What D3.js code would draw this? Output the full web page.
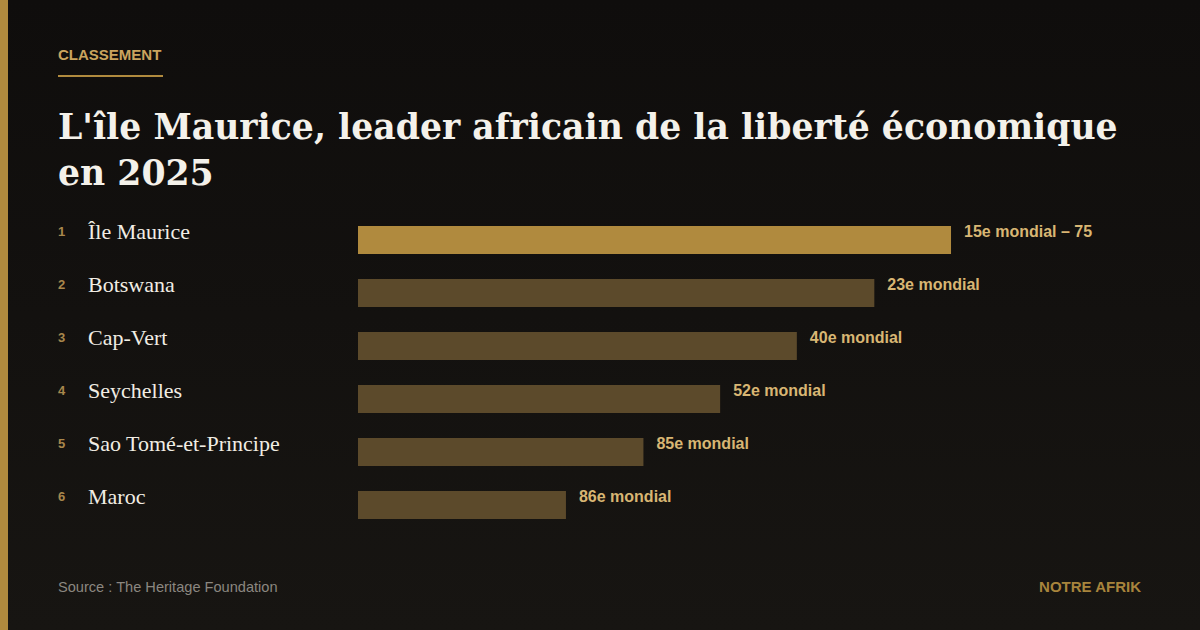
<!DOCTYPE html>
<html><head><meta charset="utf-8">
<script src="https://cdn.jsdelivr.net/npm/d3@7"></script>
<style>html,body{margin:0;padding:0;background:#100e0c;}svg{display:block;}</style>
</head><body>
<script>
const kicker = "CLASSEMENT";
const titleLines = ["L'île Maurice, leader africain de la liberté économique", "en 2025"];
const ranks = [1, 2, 3, 4, 5, 6];
const countries = ["Île Maurice", "Botswana", "Cap-Vert", "Seychelles", "Sao Tomé-et-Principe", "Maroc"];
const barValues = [75, 65.3, 55.5, 45.8, 36.1, 26.3];
const valueLabels = ["15e mondial – 75", "23e mondial", "40e mondial", "52e mondial", "85e mondial", "86e mondial"];
const source = "Source : The Heritage Foundation";
const brand = "NOTRE AFRIK";

const W = 1200, H = 630;
const svg = d3.select("body").append("svg").attr("width", W).attr("height", H);
const defs = svg.append("defs");
const g = defs.append("linearGradient").attr("id","bg").attr("x1",0).attr("y1",0).attr("x2",0).attr("y2",1);
g.append("stop").attr("offset","0%").attr("stop-color","#0f0d0c");
g.append("stop").attr("offset","100%").attr("stop-color","#171512");
svg.append("rect").attr("width",W).attr("height",H).attr("fill","url(#bg)");
svg.append("rect").attr("x",0).attr("y",0).attr("width",8).attr("height",H).attr("fill","#b08a3e");

svg.append("text").attr("x",58).attr("y",60).text(kicker)
  .attr("font-family","'Liberation Sans', Arial, sans-serif").attr("font-weight","bold")
  .attr("font-size",15).attr("fill","#caa45e");
svg.append("rect").attr("x",58).attr("y",75).attr("width",105).attr("height",2).attr("fill","#b08a3e");

const title = svg.append("g");
titleLines.forEach((t,i)=>{
  title.append("text").attr("x",58).attr("y",139 + i*46).text(t)
    .attr("font-family","'DejaVu Serif', Georgia, serif").attr("font-weight","bold")
    .attr("font-size",36).attr("fill","#f4f1ea");
});
const t0 = title.select("text").node();
const len = t0.getComputedTextLength();
const fs = 36 * 1060 / len;
title.selectAll("text").attr("font-size", fs);

const x = d3.scaleLinear().domain([0,100]).range([358, 358 + 790.7]);
const y = d3.scaleBand().domain(d3.range(countries.length)).range([226, 226 + 53*6 - 25]).paddingInner(25/53).paddingOuter(0);

const rows = svg.append("g").selectAll("g").data(countries).join("g");
rows.append("text").attr("x",58).attr("y",(d,i)=>y(i)+10).text((d,i)=>ranks[i])
  .attr("font-family","'Liberation Sans', Arial, sans-serif").attr("font-weight","bold")
  .attr("font-size",13).attr("fill","#a8874c");
rows.append("text").attr("x",88).attr("y",(d,i)=>y(i)+13).text(d=>d)
  .attr("font-family","'Liberation Serif', Georgia, serif")
  .attr("font-size",22).attr("fill","#f1ede4");
rows.append("rect").attr("x",x(0)).attr("y",(d,i)=>y(i)).attr("height",y.bandwidth())
  .attr("width",(d,i)=>x(barValues[i])-x(0))
  .attr("fill",(d,i)=>i===0?"#b08a3e":"#5c4a2b");
rows.append("text").attr("x",(d,i)=>x(barValues[i])+13).attr("y",(d,i)=>y(i)+11).text((d,i)=>valueLabels[i])
  .attr("font-family","'Liberation Sans', Arial, sans-serif").attr("font-weight","bold")
  .attr("font-size",16).attr("fill","#d8b673");

svg.append("text").attr("x",58).attr("y",592).text(source)
  .attr("font-family","'Liberation Sans', Arial, sans-serif")
  .attr("font-size",14.6).attr("fill","#8b8780");
svg.append("text").attr("x",1141).attr("y",592).attr("text-anchor","end").text(brand)
  .attr("font-family","'Liberation Sans', Arial, sans-serif").attr("font-weight","bold")
  .attr("font-size",15).attr("fill","#a8843c");
</script>
</body></html>
